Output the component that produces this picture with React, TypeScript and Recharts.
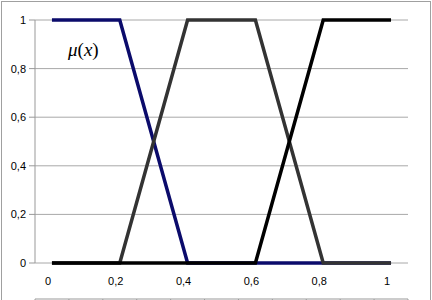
import { LineChart, Line, XAxis, YAxis, CartesianGrid } from "recharts";

const xValues = [0, 0.2, 0.4, 0.6, 0.8, 1];
const lowSet = [1, 1, 0, 0, 0, 0];
const midSet = [0, 0, 1, 1, 0, 0];
const highSet = [0, 0, 0, 0, 1, 1];

const xLabelTicks = [0, 0.2, 0.4, 0.6, 0.8, 1];
const xMinorTicks = [-0.05, 0.05, 0.15, 0.25, 0.35, 0.45, 0.55, 0.65, 0.75, 0.85, 0.95, 1.05];
const yTicks = [0, 0.2, 0.4, 0.6, 0.8, 1];

const data = xValues.map((x, i) => ({
	x,
	low: lowSet[i],
	mid: midSet[i],
	high: highSet[i],
}));

const comma = (v: number) => String(v).replace(".", ",");

const NoLabel = () => <g />;

const App = () => {
	return (
		<div
			style={{
				position: "absolute",
				left: 0,
				top: 0,
				width: 432,
				height: 300,
				background: "#fff",
				fontFamily: "'Liberation Sans', Arial, sans-serif",
			}}
		>
			<div
				style={{
					position: "absolute",
					left: 1,
					top: 1,
					width: 430,
					height: 310,
					border: "1px solid #a0a0a0",
					boxSizing: "border-box",
				}}
			/>
			<LineChart
				width={432}
				height={300}
				data={data}
				margin={{ top: 20, right: 24, bottom: 0, left: 0 }}
				style={{ fontSize: "11px" }}
			>
				<CartesianGrid vertical={false} stroke="#a8a8a8" />
				<XAxis
					xAxisId="minor"
					dataKey="x"
					type="number"
					domain={[-0.05, 1.05]}
					ticks={xMinorTicks}
					tick={NoLabel}
					tickSize={5}
					height={1}
					stroke="#999"
					interval={0}
					allowDataOverflow
				/>
				<XAxis
					xAxisId="labels"
					dataKey="x"
					type="number"
					domain={[-0.05, 1.05]}
					ticks={xLabelTicks}
					tickFormatter={comma}
					tickLine={false}
					axisLine={false}
					tickSize={0}
					tickMargin={14}
					height={36}
					interval={0}
					tick={{ fill: "#000", dx: -4 }}
				/>
				<YAxis
					type="number"
					domain={[0, 1]}
					ticks={yTicks}
					tickFormatter={comma}
					width={35}
					tickSize={6}
					tickMargin={3}
					stroke="#999"
					tick={{ fill: "#000" }}
				/>
				<Line
					xAxisId="labels"
					dataKey="low"
					stroke="#0b0b6b"
					strokeWidth={3.5}
					dot={false}
					isAnimationActive={false}
				/>
				<Line
					xAxisId="labels"
					dataKey="mid"
					stroke="#333333"
					strokeWidth={3.5}
					dot={false}
					isAnimationActive={false}
				/>
				<Line
					xAxisId="labels"
					dataKey="high"
					stroke="#000000"
					strokeWidth={3.5}
					dot={false}
					isAnimationActive={false}
				/>
			</LineChart>
			<div
				style={{
					position: "absolute",
					left: 68,
					top: 41,
					fontFamily: "'Liberation Serif', 'Times New Roman', serif",
					fontSize: 19,
					lineHeight: "18px",
				}}
			>
				<i>μ</i>(<i>x</i>)
			</div>
		</div>
	);
};

export default App;
